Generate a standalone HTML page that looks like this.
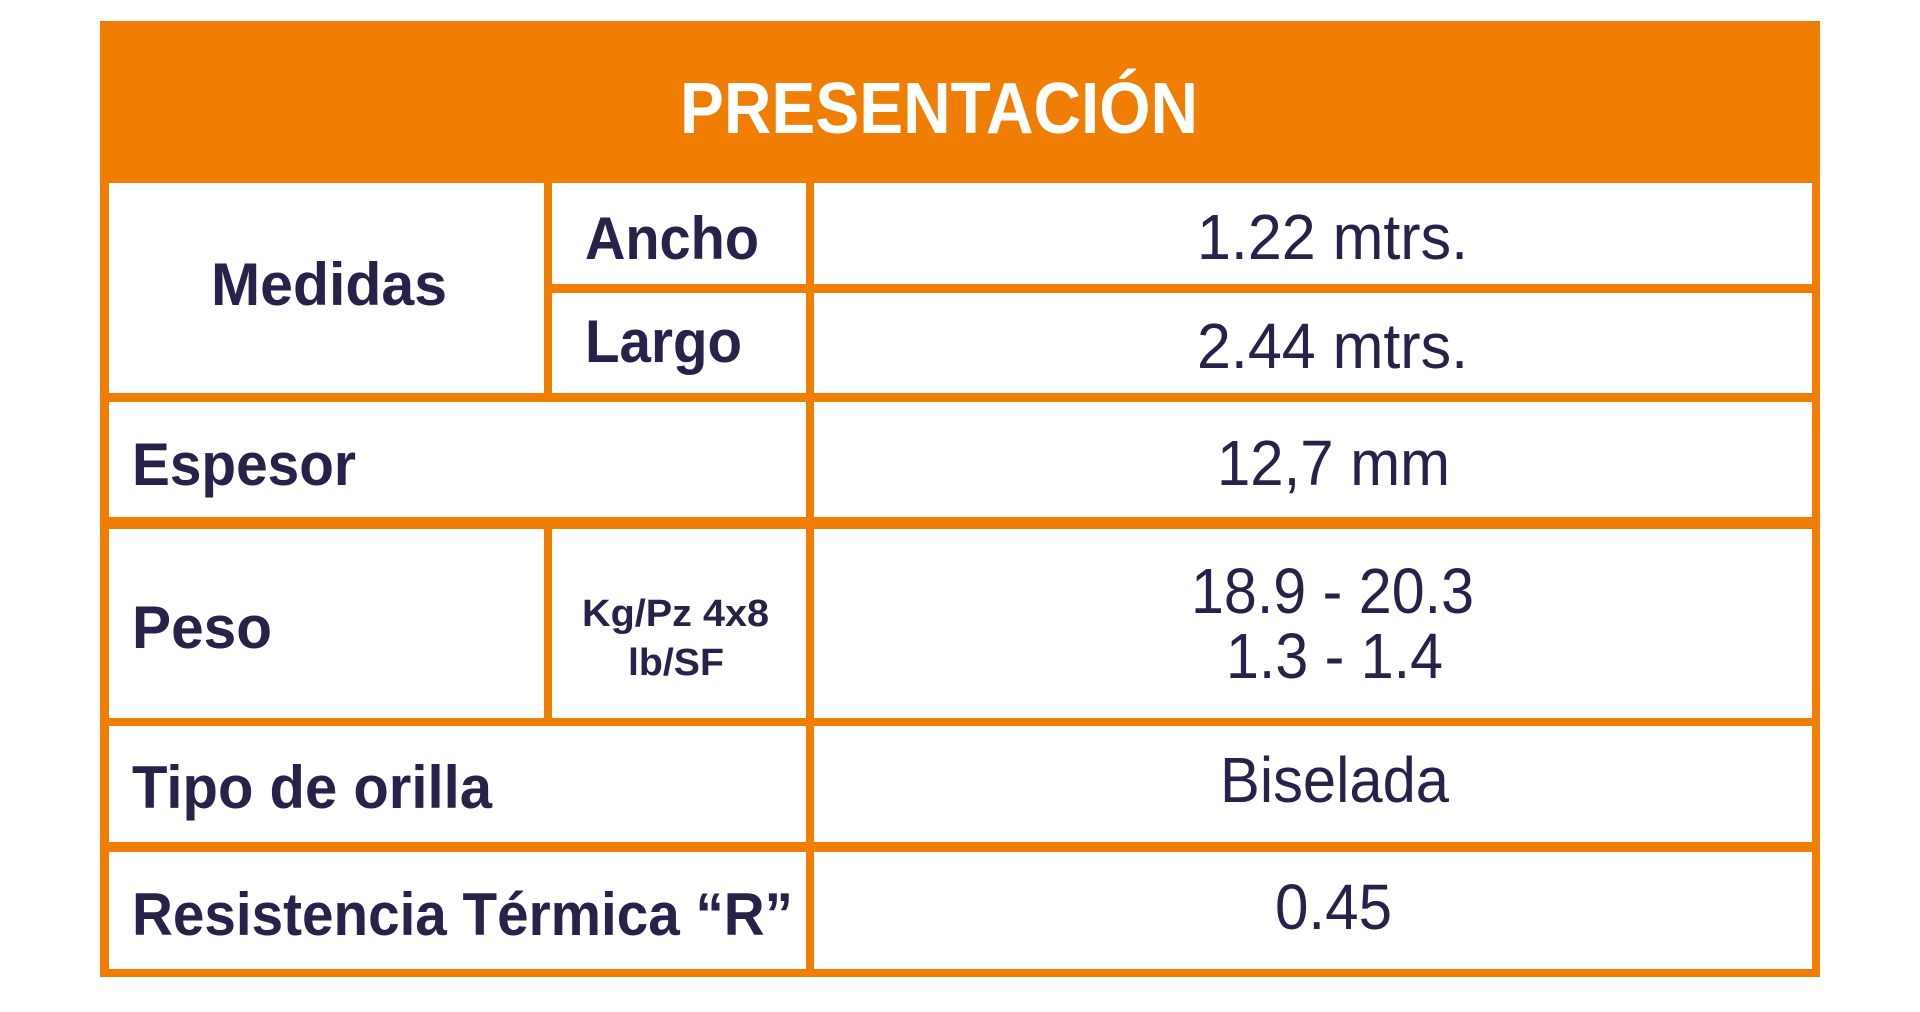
<!DOCTYPE html>
<html><head><meta charset="utf-8"><style>
html,body{margin:0;padding:0;background:#fff;width:1920px;height:1012px;overflow:hidden}
svg{display:block}
text{font-family:"Liberation Sans",Arial,sans-serif;fill:#28214a}
.b{font-weight:bold}
</style></head><body>
<svg width="1920" height="1012" viewBox="0 0 1920 1012" xmlns="http://www.w3.org/2000/svg">
<rect x="0" y="0" width="1920" height="1012" fill="#fff"/>
<rect x="100" y="21" width="1720" height="956" fill="#f07e04"/>
<g fill="#fff">
<rect x="109" y="183" width="435" height="210"/>
<rect x="552" y="183" width="254" height="101"/>
<rect x="814" y="183" width="998" height="101"/>
<rect x="552" y="293" width="254" height="100"/>
<rect x="814" y="293" width="998" height="100"/>
<rect x="109" y="402" width="697" height="115"/>
<rect x="814" y="402" width="998" height="115"/>
<rect x="109" y="529" width="435" height="189"/>
<rect x="552" y="529" width="254" height="189"/>
<rect x="814" y="529" width="998" height="189"/>
<rect x="109" y="726" width="697" height="116"/>
<rect x="814" y="726" width="998" height="116"/>
<rect x="109" y="852" width="697" height="117"/>
<rect x="814" y="852" width="998" height="117"/>
</g>
<text class="b" x="680" y="133" font-size="72" textLength="518" lengthAdjust="spacingAndGlyphs" style="fill:#fff">PRESENTACIÓN</text>
<text class="b" x="211" y="305" font-size="60" textLength="236" lengthAdjust="spacingAndGlyphs">Medidas</text>
<text class="b" x="585" y="259" font-size="60" textLength="174" lengthAdjust="spacingAndGlyphs">Ancho</text>
<text class="b" x="585" y="362" font-size="60" textLength="157" lengthAdjust="spacingAndGlyphs">Largo</text>
<text class="b" x="132" y="485" font-size="60" textLength="224" lengthAdjust="spacingAndGlyphs">Espesor</text>
<text class="b" x="132" y="648" font-size="60" textLength="140" lengthAdjust="spacingAndGlyphs">Peso</text>
<text class="b" x="582" y="626" font-size="38" textLength="187" lengthAdjust="spacingAndGlyphs">Kg/Pz 4x8</text>
<text class="b" x="628" y="675" font-size="38" textLength="96" lengthAdjust="spacingAndGlyphs">lb/SF</text>
<text class="b" x="132" y="808" font-size="60" textLength="360" lengthAdjust="spacingAndGlyphs">Tipo de orilla</text>
<text class="b" x="132" y="935" font-size="60" textLength="661" lengthAdjust="spacingAndGlyphs">Resistencia Térmica “R”</text>
<text x="1197" y="259" font-size="64" textLength="271" lengthAdjust="spacingAndGlyphs">1.22 mtrs.</text>
<text x="1197" y="368" font-size="64" textLength="271" lengthAdjust="spacingAndGlyphs">2.44 mtrs.</text>
<text x="1217" y="485" font-size="64" textLength="233" lengthAdjust="spacingAndGlyphs">12,7 mm</text>
<text x="1191" y="613" font-size="64" textLength="283" lengthAdjust="spacingAndGlyphs">18.9 - 20.3</text>
<text x="1226" y="678" font-size="64" textLength="217" lengthAdjust="spacingAndGlyphs">1.3 - 1.4</text>
<text x="1220" y="802" font-size="64" textLength="229" lengthAdjust="spacingAndGlyphs">Biselada</text>
<text x="1275" y="929" font-size="64" textLength="117" lengthAdjust="spacingAndGlyphs">0.45</text>
</svg>
</body></html>
